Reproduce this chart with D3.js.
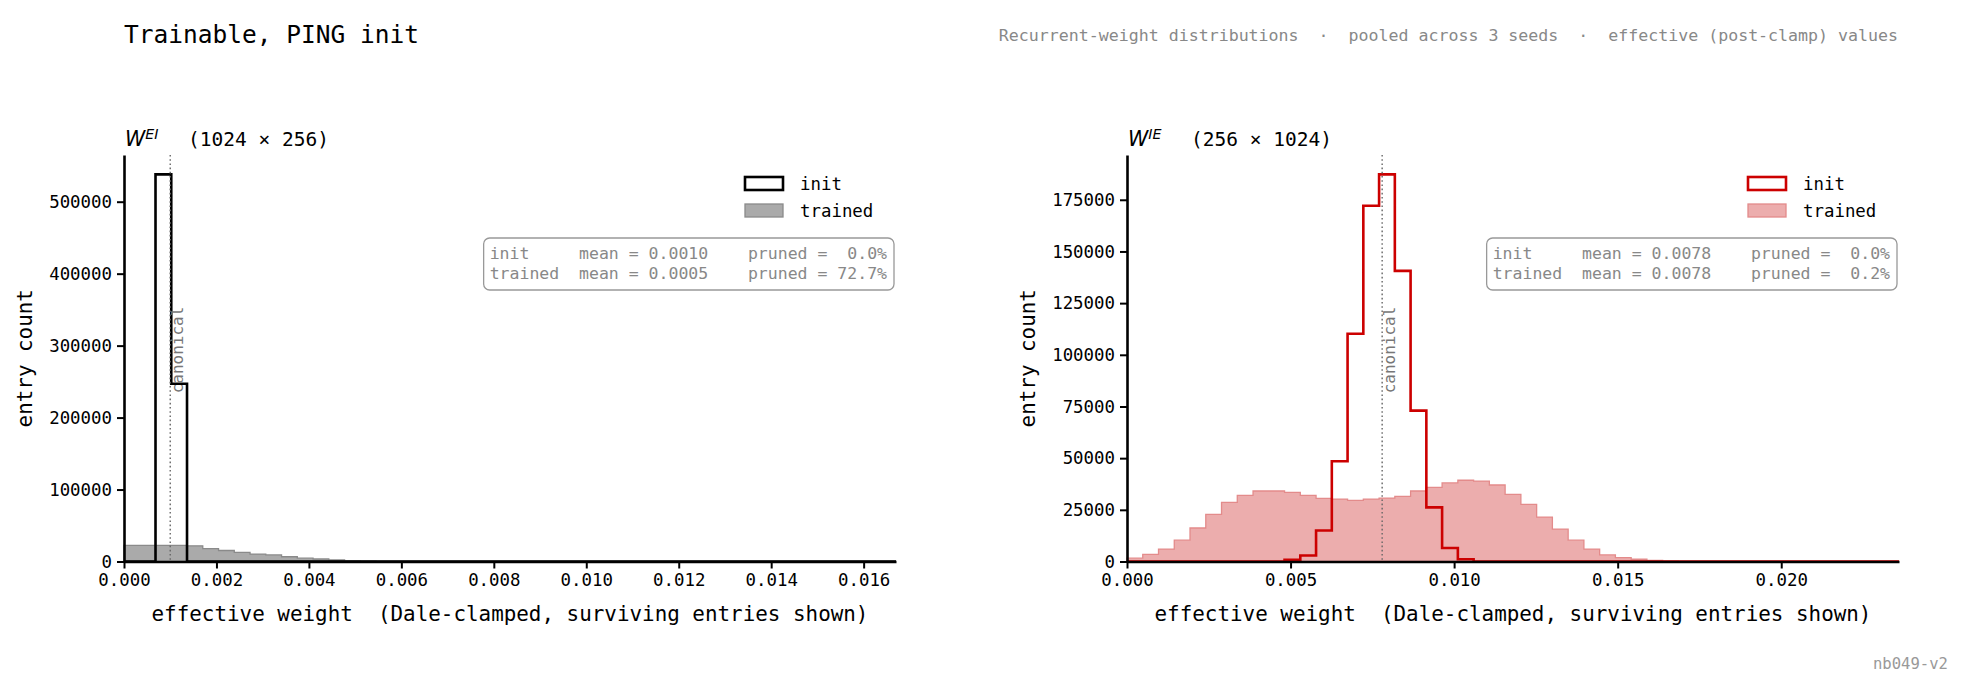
<!DOCTYPE html>
<html>
<head>
<meta charset="utf-8">
<script src="https://cdn.jsdelivr.net/npm/d3@7"></script>
<style>
  html, body { margin: 0; padding: 0; background: #ffffff; }
  svg text { font-family: "DejaVu Sans Mono", monospace; }
</style>
</head>
<body>
<div id="chart"></div>
<script>
// bin counts (49 equal bins from 0 to the axis max)
const eiXMax = 0.0167;
const eiInit = [
  0, 0, 538000, 247000, 0, 0, 0, 0, 0, 0,
  0, 0, 0, 0, 0, 0, 0, 0, 0, 0,
  0, 0, 0, 0, 0, 0, 0, 0, 0, 0,
  0, 0, 0, 0, 0, 0, 0, 0, 0, 0,
  0, 0, 0, 0, 0, 0, 0, 0, 0,
];
const eiTrained = [
  22500, 22500, 22500, 22500, 21800, 17800, 15300, 12800, 10300, 9200,
  6600, 4600, 3500, 2100, 1000, 450, 150, 0, 0, 0,
  0, 0, 0, 0, 0, 0, 0, 0, 0, 0,
  0, 0, 0, 0, 0, 0, 0, 0, 0, 0,
  0, 0, 0, 0, 0, 0, 0, 0, 0,
];
const eiXTicks = [0, 0.002, 0.004, 0.006, 0.008, 0.01, 0.012, 0.014, 0.016];
const eiYTicks = [0, 100000, 200000, 300000, 400000, 500000];
const eiCanonical = 0.001;
const eiStats = [
  "init     mean = 0.0010    pruned =  0.0%",
  "trained  mean = 0.0005    pruned = 72.7%",
];

const ieXMax = 0.0236;
const ieInit = [
  0, 0, 0, 0, 0, 0, 0, 0, 0, 0,
  800, 2900, 15000, 48500, 110200, 172100, 187300, 140600, 73000, 26200,
  6500, 1100, 0, 0, 0, 0, 0, 0, 0, 0,
  0, 0, 0, 0, 0, 0, 0, 0, 0, 0,
  0, 0, 0, 0, 0, 0, 0, 0, 0,
];
const ieTrained = [
  1600, 3400, 6000, 10300, 16200, 22800, 28600, 32000, 34100, 34100,
  33450, 32000, 30500, 30200, 29600, 30200, 30700, 31500, 34100, 35900,
  38000, 39300, 38900, 37000, 32500, 27600, 21500, 15700, 10300, 6000,
  3200, 1900, 1100, 500, 200, 80, 0, 0, 0, 0,
  0, 0, 0, 0, 0, 0, 0, 0, 0,
];
const ieXTicks = [0, 0.005, 0.01, 0.015, 0.02];
const ieYTicks = [0, 25000, 50000, 75000, 100000, 125000, 150000, 175000];
const ieCanonical = 0.0078;
const ieStats = [
  "init     mean = 0.0078    pruned =  0.0%",
  "trained  mean = 0.0078    pruned =  0.2%",
];

const width = 1962;
const height = 688;
const plotTop = 155;
const plotBottom = 561.5;

const panels = [
  {
    left: 124, right: 896, xMax: eiXMax, init: eiInit, trained: eiTrained,
    xTicks: eiXTicks, yTicks: eiYTicks, canonical: eiCanonical, stats: eiStats,
    sup: "EI", shape: "(1024 × 256)",
    initColor: "#000000", trainedFill: "#aaaaaa", trainedEdge: "#8a8a8a",
  },
  {
    left: 1127, right: 1899, xMax: ieXMax, init: ieInit, trained: ieTrained,
    xTicks: ieXTicks, yTicks: ieYTicks, canonical: ieCanonical, stats: ieStats,
    sup: "IE", shape: "(256 × 1024)",
    initColor: "#cc0000", trainedFill: "#ecadad", trainedEdge: "#e38b8b",
  },
];

const svg = d3.select("#chart")
  .append("svg")
  .attr("width", width)
  .attr("height", height);

svg.append("rect")
  .attr("width", width)
  .attr("height", height)
  .attr("fill", "#ffffff");

svg.append("text")
  .attr("x", 124)
  .attr("y", 34)
  .attr("dominant-baseline", "central")
  .style("font-size", "24.5px")
  .attr("fill", "#000")
  .text("Trainable, PING init");

svg.append("text")
  .attr("x", 1898)
  .attr("y", 35)
  .attr("dominant-baseline", "central")
  .attr("text-anchor", "end")
  .style("font-size", "16.6px")
  .style("white-space", "pre")
  .attr("fill", "#888888")
  .text("Recurrent-weight distributions  ·  pooled across 3 seeds  ·  effective (post-clamp) values");

svg.append("text")
  .attr("x", 1948)
  .attr("y", 664)
  .attr("dominant-baseline", "central")
  .attr("text-anchor", "end")
  .style("font-size", "15.6px")
  .attr("fill", "#999999")
  .text("nb049-v2");

function drawPanel(p) {
  const n = p.init.length;
  const binWidth = p.xMax / n;

  const x = d3.scaleLinear().domain([0, p.xMax]).range([p.left, p.right]);
  const yMax = d3.max(p.init.concat(p.trained)) * 1.05;
  const y = d3.scaleLinear().domain([0, yMax]).range([plotBottom, plotTop]);

  const g = svg.append("g");

  // trained: filled step histogram
  const trainedPts = p.trained.map((c, i) => [i * binWidth, c]);
  trainedPts.push([n * binWidth, p.trained[n - 1]]);
  const area = d3.area()
    .x((d) => x(d[0]))
    .y0(y(0))
    .y1((d) => y(d[1]))
    .curve(d3.curveStepAfter);
  g.append("path")
    .attr("d", area(trainedPts))
    .attr("fill", p.trainedFill)
    .attr("stroke", p.trainedEdge)
    .attr("stroke-width", 1.3);

  // init: outline step histogram
  const initPts = [[0, 0]].concat(p.init.map((c, i) => [i * binWidth, c]));
  initPts.push([n * binWidth, p.init[n - 1]]);
  initPts.push([n * binWidth, 0]);
  const line = d3.line()
    .x((d) => x(d[0]))
    .y((d) => y(d[1]))
    .curve(d3.curveStepAfter);
  g.append("path")
    .attr("d", line(initPts))
    .attr("fill", "none")
    .attr("stroke", p.initColor)
    .attr("stroke-width", 2.6)
    .attr("stroke-linejoin", "miter");

  // canonical marker
  const cx = x(p.canonical);
  g.append("line")
    .attr("x1", cx).attr("x2", cx)
    .attr("y1", plotTop).attr("y2", plotBottom)
    .attr("stroke", "#666666")
    .attr("stroke-width", 1.4)
    .attr("stroke-dasharray", "1.6,2.6");
  g.append("text")
    .attr("transform", `translate(${cx + 7},350) rotate(-90)`)
    .attr("text-anchor", "middle")
    .attr("dominant-baseline", "central")
    .style("font-size", "16px")
    .attr("fill", "#777777")
    .text("canonical");

  // axes
  const xAxis = g.append("g")
    .attr("transform", `translate(0,${plotBottom})`)
    .call(
      d3.axisBottom(x)
        .tickValues(p.xTicks)
        .tickFormat(d3.format(".3f"))
        .tickSize(7)
        .tickSizeOuter(0)
        .tickPadding(5)
    );
  const yAxis = g.append("g")
    .attr("transform", `translate(${p.left},0)`)
    .call(
      d3.axisLeft(y)
        .tickValues(p.yTicks)
        .tickFormat(d3.format("d"))
        .tickSize(7)
        .tickSizeOuter(0)
        .tickPadding(5)
    );
  [xAxis, yAxis].forEach((ax) => {
    ax.select(".domain").attr("stroke", "#000").attr("stroke-width", 2.6);
    ax.selectAll(".tick line").attr("stroke", "#000").attr("stroke-width", 2);
    ax.selectAll(".tick text")
      .attr("fill", "#000")
      .style("font-family", "DejaVu Sans Mono")
      .style("font-size", "17.4px");
  });

  g.append("text")
    .attr("x", (p.left + p.right) / 2)
    .attr("y", 614)
    .attr("text-anchor", "middle")
    .attr("dominant-baseline", "central")
    .style("font-size", "20.9px")
    .style("white-space", "pre")
    .attr("fill", "#000")
    .text("effective weight  (Dale-clamped, surviving entries shown)");

  g.append("text")
    .attr("transform", `translate(${p.left - 99},${(plotTop + plotBottom) / 2}) rotate(-90)`)
    .attr("text-anchor", "middle")
    .attr("dominant-baseline", "central")
    .style("font-size", "20.9px")
    .attr("fill", "#000")
    .text("entry count");

  // panel title: W^{..}  (rows × cols)
  const w = g.append("text")
    .attr("x", p.left + 1)
    .attr("y", 146)
    .style("font-family", "DejaVu Sans")
    .style("font-style", "italic")
    .style("font-size", "20.5px")
    .attr("fill", "#000")
    .text("W");
  w.append("tspan")
    .attr("dy", -7.5)
    .style("font-size", "14.2px")
    .text(p.sup);
  g.append("text")
    .attr("x", p.left + 64)
    .attr("y", 146)
    .style("font-size", "19.5px")
    .attr("fill", "#000")
    .text(p.shape);

  // legend
  const legend = g.append("g").attr("transform", `translate(${p.right - 151},177)`);
  legend.append("rect")
    .attr("x", 0).attr("y", 0)
    .attr("width", 38).attr("height", 13)
    .attr("fill", "#ffffff")
    .attr("stroke", p.initColor)
    .attr("stroke-width", 2.6);
  legend.append("rect")
    .attr("x", 0).attr("y", 27)
    .attr("width", 38).attr("height", 13)
    .attr("fill", p.trainedFill)
    .attr("stroke", p.trainedEdge)
    .attr("stroke-width", 1.3);
  ["init", "trained"].forEach((label, i) => {
    legend.append("text")
      .attr("x", 55)
      .attr("y", 6.5 + i * 27)
      .attr("dominant-baseline", "central")
      .style("font-size", "17.4px")
      .attr("fill", "#000")
      .text(label);
  });

  // stats box
  const boxRight = p.right - 2;
  const box = g.append("g");
  const boxRect = box.append("rect");
  const statsText = box.append("g");
  p.stats.forEach((s, i) => {
    statsText.append("text")
      .attr("x", boxRight - 7)
      .attr("y", 253 + i * 20.5)
      .attr("text-anchor", "end")
      .attr("dominant-baseline", "central")
      .style("font-size", "16.5px")
      .style("white-space", "pre")
      .attr("fill", "#888888")
      .text(s);
  });
  const bb = statsText.node().getBBox();
  boxRect
    .attr("x", bb.x - 6)
    .attr("y", 238)
    .attr("width", boxRight - (bb.x - 6))
    .attr("height", 52)
    .attr("rx", 6)
    .attr("fill", "#ffffff")
    .attr("fill-opacity", 0.85)
    .attr("stroke", "#999999")
    .attr("stroke-width", 1.3);
}

panels.forEach(drawPanel);
</script>
</body>
</html>
